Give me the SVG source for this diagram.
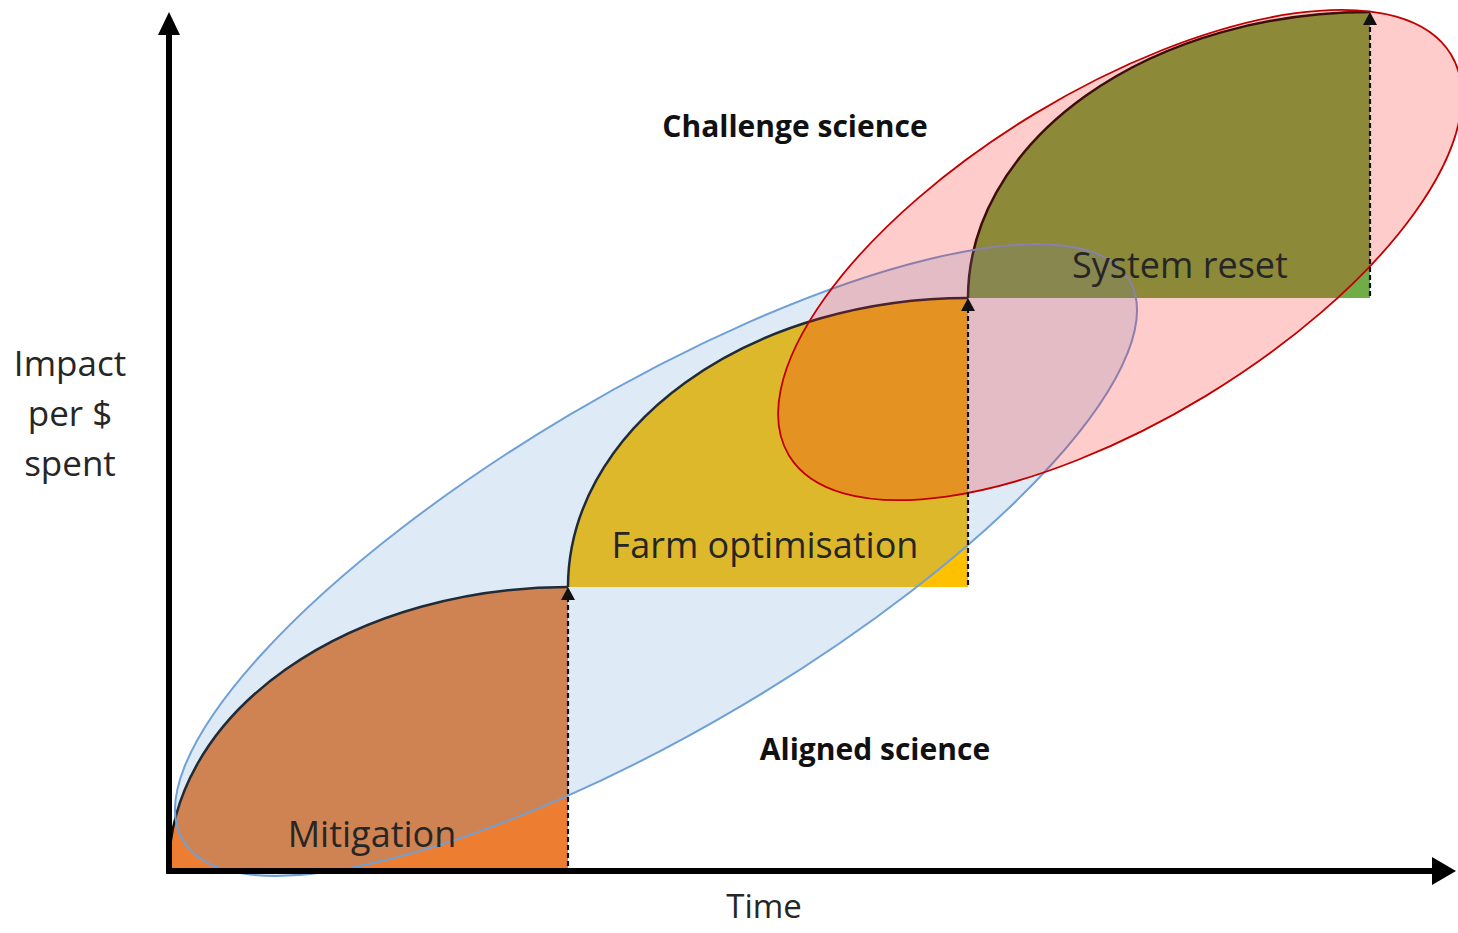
<svg xmlns="http://www.w3.org/2000/svg" width="1458" height="933" viewBox="0 0 1458 933">
<style>
.lbl{font-family:"Open Sans","Liberation Sans",sans-serif;fill:#262626;text-anchor:middle}
.big{font-size:36px}
.ax{font-size:35px}
.bold{font-size:30px;font-weight:bold;fill:#111}
.arc{fill:none;stroke:#111;stroke-width:2.5}
.dash{stroke:#111;stroke-width:2.2;stroke-dasharray:5,3;fill:none}
</style>
<defs>
<marker id="ah" markerWidth="13" markerHeight="14" viewBox="0 0 13 14" refX="0" refY="7" orient="auto" markerUnits="userSpaceOnUse">
<path d="M0,0 L13,7 L0,14 Z" fill="#111"/>
</marker>
</defs>
<rect width="1458" height="933" fill="#fff"/>
<g id="mitigation">
<path d="M169,868 A399,281 0 0 1 568,587 L568,871 L169,871 Z" fill="#ED7D31"/>
<path class="arc" d="M169,868 A399,281 0 0 1 568,587"/>
</g>
<g id="farm-optimisation">
<path d="M568,587 A400,289 0 0 1 968,298 L968,587 Z" fill="#FFC000"/>
<path class="arc" d="M568,587 A400,289 0 0 1 968,298"/>
</g>
<g id="system-reset">
<path d="M968,298 A402,286 0 0 1 1370,12 L1370,298 Z" fill="#70AD47"/>
<path class="arc" d="M968,298 A402,286 0 0 1 1370,12"/>
</g>
<g id="aligned-science-ellipse">
<ellipse cx="656" cy="560" rx="550" ry="169" transform="rotate(-30.65 656 560)" fill="#5B9BD5" fill-opacity="0.2" stroke="#6FA0D6" stroke-width="2"/>
</g>
<g id="challenge-science-ellipse">
<ellipse cx="1120" cy="255" rx="387" ry="165" transform="rotate(-31.2 1120 255)" fill="#FF0000" fill-opacity="0.2" stroke="#C00000" stroke-width="1.8"/>
</g>
<g id="connectors">
<line class="dash" x1="568" y1="866" x2="568" y2="600" marker-end="url(#ah)"/>
<line class="dash" x1="968" y1="585" x2="968" y2="311" marker-end="url(#ah)"/>
<line class="dash" x1="1370" y1="296" x2="1370" y2="25" marker-end="url(#ah)"/>
</g>
<g id="axes">
<line x1="169" y1="874" x2="169" y2="32" stroke="#000" stroke-width="6"/>
<polygon points="169,12 158,35 180,35" fill="#000"/>
<line x1="166" y1="871" x2="1436" y2="871" stroke="#000" stroke-width="6"/>
<polygon points="1456,871 1432,857 1432,885" fill="#000"/>
</g>
<g id="labels">
<text class="lbl ax" x="70" y="376">Impact</text>
<text class="lbl ax" x="70" y="426">per $</text>
<text class="lbl ax" x="70" y="476">spent</text>
<text class="lbl ax" x="764" y="918" style="font-size:33px">Time</text>
<text class="lbl bold" x="795" y="137">Challenge science</text>
<text class="lbl bold" x="875" y="760">Aligned science</text>
<text class="lbl big" x="765" y="558">Farm optimisation</text>
<text class="lbl big" x="372" y="847">Mitigation</text>
<text class="lbl big" x="1180" y="278">System reset</text>
</g>
</svg>
